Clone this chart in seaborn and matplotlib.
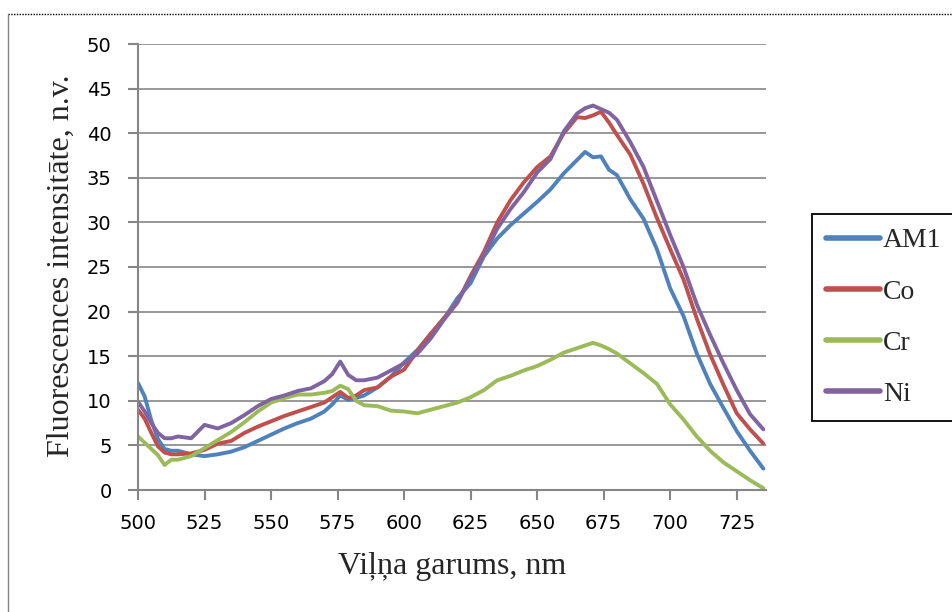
import pandas as pd
import matplotlib.pyplot as plt
import seaborn as sns
from matplotlib.lines import Line2D

# --- dati (nolasīti no attēla) ---
vilnu_garums = [500, 502.5, 505, 507.5, 510, 512.5, 515, 520, 525, 530, 535, 540, 545, 550,
                555, 560, 565, 570, 573, 576, 579, 582, 585, 590, 595, 600, 605, 610, 615,
                620, 625, 630, 635, 640, 645, 650, 655, 660, 665, 668, 671, 674, 677, 680,
                685, 690, 695, 700, 705, 710, 715, 720, 725, 730, 735]

am1 = [12.0, 10.5, 7.8, 5.7, 4.6, 4.4, 4.4, 4.0, 3.8, 4.0, 4.3, 4.8, 5.5, 6.2,
       6.9, 7.5, 8.0, 8.8, 9.6, 10.6, 10.1, 10.3, 10.6, 11.5, 12.7, 14.3, 15.7, 17.5, 19.2,
       21.5, 23.2, 26.2, 28.2, 29.7, 31.0, 32.3, 33.7, 35.5, 37.0, 37.9, 37.3, 37.4, 35.9, 35.3,
       32.6, 30.4, 27.0, 22.6, 19.5, 15.3, 11.9, 9.2, 6.6, 4.4, 2.4]

co = [9.0, 8.0, 6.4, 4.9, 4.2, 4.0, 4.0, 4.1, 4.5, 5.2, 5.5, 6.4, 7.1, 7.7,
      8.3, 8.8, 9.3, 9.8, 10.4, 11.0, 10.3, 10.6, 11.2, 11.5, 12.7, 13.5, 15.6, 17.5, 19.3,
      21.0, 24.0, 26.7, 30.0, 32.5, 34.5, 36.2, 37.4, 40.0, 41.8, 41.7, 42.0, 42.4, 41.2, 39.8,
      37.6, 34.3, 30.5, 27.0, 23.6, 19.2, 15.2, 11.8, 8.6, 6.8, 5.2]

cr = [6.0, 5.3, 4.6, 3.9, 2.8, 3.4, 3.4, 3.8, 4.7, 5.6, 6.5, 7.6, 8.8, 9.8,
      10.3, 10.7, 10.7, 10.9, 11.1, 11.7, 11.3, 10.0, 9.5, 9.4, 8.9, 8.8, 8.6, 9.0, 9.4,
      9.8, 10.4, 11.2, 12.3, 12.8, 13.4, 13.9, 14.6, 15.4, 15.9, 16.2, 16.5, 16.2, 15.8, 15.3,
      14.2, 13.1, 11.9, 9.6, 7.9, 6.0, 4.4, 3.1, 2.1, 1.1, 0.2]

ni = [9.9, 8.8, 7.5, 6.4, 5.8, 5.8, 6.0, 5.8, 7.3, 6.9, 7.5, 8.4, 9.4, 10.2,
      10.6, 11.1, 11.4, 12.2, 13.0, 14.4, 12.9, 12.3, 12.3, 12.6, 13.4, 14.2, 15.3, 17.0, 19.1,
      21.0, 23.8, 26.3, 29.3, 31.5, 33.4, 35.6, 37.1, 40.2, 42.2, 42.8, 43.1, 42.7, 42.3, 41.5,
      39.0, 36.2, 32.4, 28.6, 25.0, 20.8, 17.4, 14.2, 11.2, 8.5, 6.8]

sērijas = ['AM1', 'Co', 'Cr', 'Ni']
krāsas = {'AM1': '#4F81BD', 'Co': '#C0504D', 'Cr': '#9BBB59', 'Ni': '#8064A2'}

df = pd.DataFrame({'nm': vilnu_garums, 'AM1': am1, 'Co': co, 'Cr': cr, 'Ni': ni})
df_long = df.melt(id_vars='nm', value_vars=sērijas, var_name='Paraugs', value_name='I')

# --- stils ---
sns.set_style('white')
plt.rcParams['font.family'] = ['DejaVu Sans']

fig = plt.figure(figsize=(9.52, 6.12), dpi=100)
ax = fig.add_axes([138 / 952, 1 - 490 / 612, 628 / 952, 446 / 612])

sns.lineplot(data=df_long, x='nm', y='I', hue='Paraugs', hue_order=sērijas,
             palette=krāsas, linewidth=2.8, ax=ax, legend=False)

ax.set_xlim(500, 736)
ax.set_ylim(0, 50)
ax.set_xticks(range(500, 726, 25))
ax.set_yticks(range(0, 51, 5))
ax.grid(axis='y', color='#868686', linewidth=1.2)
ax.grid(axis='x', visible=False)
ax.set_axisbelow(True)

for side in ['top', 'right']:
    ax.spines[side].set_visible(False)
for side in ['left', 'bottom']:
    ax.spines[side].set_color('#868686')
    ax.spines[side].set_linewidth(1.5)

ax.tick_params(axis='both', colors='#868686', labelcolor='black', labelsize=14,
               length=7, width=1.5, direction='out', left=True, bottom=True)
ax.tick_params(axis='y', pad=12)
ax.tick_params(axis='x', pad=10)

ax.set_xlabel('Viļņa garums, nm', fontsize=23, family='Liberation Serif')
ax.set_ylabel('Fluorescences intensitāte, n.v.', fontsize=23, family='Liberation Serif')
ax.xaxis.set_label_coords(0.5, -0.14)
ax.yaxis.set_label_coords(-0.099, 0.504)

# leģenda
rokturi = [Line2D([0], [0], color=krāsas[s], linewidth=4) for s in sērijas]
leg = fig.legend(rokturi, sērijas, loc='upper left', bbox_to_anchor=(812 / 952, 1 - 214 / 612),
                 frameon=True, fancybox=False, framealpha=1, edgecolor='black',
                 prop={'family': 'Liberation Serif', 'size': 20},
                 handlelength=1.95, handletextpad=0.1, labelspacing=0.93,
                 borderpad=0.5, borderaxespad=0)
leg.get_frame().set_linewidth(1.3)

# ārējais rāmis
fig.add_artist(Line2D([8 / 952, 1], [1 - 14 / 612, 1 - 14 / 612], color='black',
                      linewidth=1, linestyle=(0, (1, 1)), transform=fig.transFigure))
fig.add_artist(Line2D([8 / 952, 8 / 952], [0, 1 - 14 / 612], color='#868686',
                      linewidth=1, transform=fig.transFigure))

fig.savefig('out.png', dpi=100)
